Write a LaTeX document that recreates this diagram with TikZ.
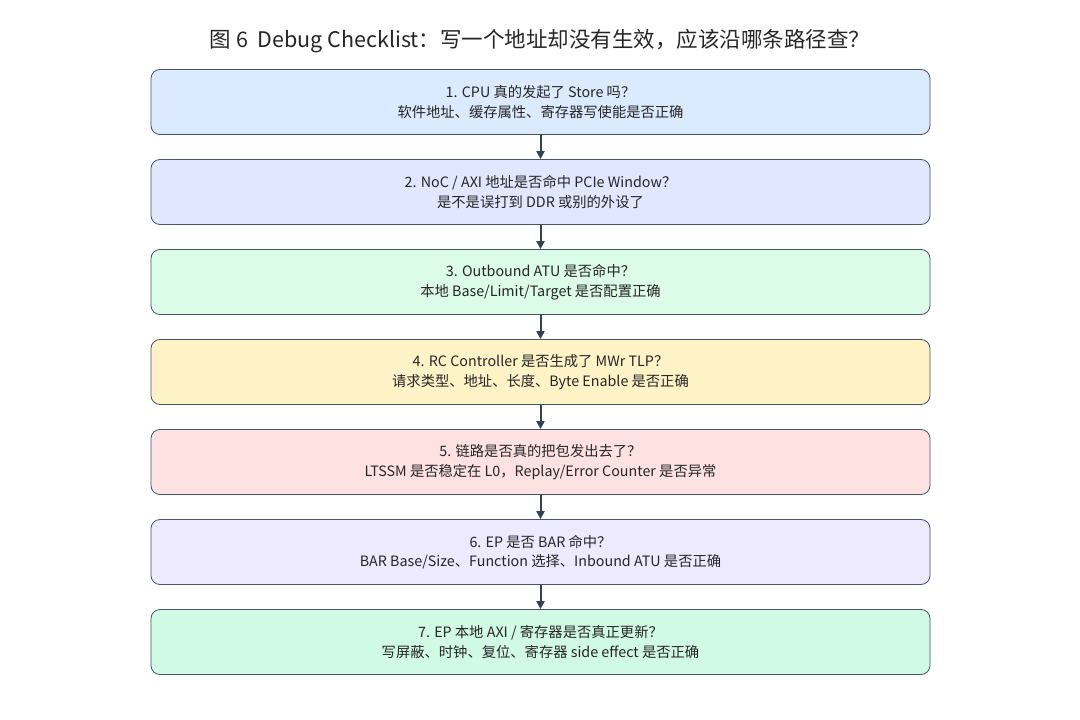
\documentclass[tikz,border=0pt]{standalone}
\usepackage{fontspec}
\setmainfont{Noto Sans CJK SC}
\usetikzlibrary{arrows.meta}
\definecolor{c1}{HTML}{DBEAFE}\definecolor{c2}{HTML}{E0E7FF}\definecolor{c3}{HTML}{DCFCE7}
\definecolor{c4}{HTML}{FEF3C7}\definecolor{c5}{HTML}{FEE2E2}\definecolor{c6}{HTML}{EDE9FE}
\definecolor{c7}{HTML}{D1FAE5}\definecolor{bd}{HTML}{475569}\definecolor{ar}{HTML}{334155}
\begin{document}
\begin{tikzpicture}[x=1pt,y=-1pt,
 box/.style={draw=bd,line width=0.8pt,rounded corners=9pt,minimum width=779pt,minimum height=65pt,align=center,font=\fontsize{14.3}{19.5}\selectfont,text=black!85},
 arr/.style={-{Triangle[length=8pt,width=8pt]},draw=ar,line width=2pt}]
\useasboundingbox (0,0) rectangle (1080,720);
\node[font=\fontsize{21.5}{24}\selectfont,text=black!85] (t) at (540,41) {图 6\ \ Debug Checklist：写一个地址却没有生效，应该沿哪条路径查？};
\node[box,fill=c1] (b1) at (540.5,102) {1. CPU 真的发起了 Store 吗？\\软件地址、缓存属性、寄存器写使能是否正确};
\node[box,fill=c2] (b2) at (540.5,192) {2. NoC / AXI 地址是否命中 PCIe Window？\\是不是误打到 DDR 或别的外设了};
\node[box,fill=c3] (b3) at (540.5,282) {3. Outbound ATU 是否命中？\\本地 Base/Limit/Target 是否配置正确};
\node[box,fill=c4] (b4) at (540.5,372) {4. RC Controller 是否生成了 MWr TLP？\\请求类型、地址、长度、Byte Enable 是否正确};
\node[box,fill=c5] (b5) at (540.5,462) {5. 链路是否真的把包发出去了？\\LTSSM 是否稳定在 L0，Replay/Error Counter 是否异常};
\node[box,fill=c6] (b6) at (540.5,552) {6. EP 是否 BAR 命中？\\BAR Base/Size、Function 选择、Inbound ATU 是否正确};
\node[box,fill=c7] (b7) at (540.5,642) {7. EP 本地 AXI / 寄存器是否真正更新？\\写屏蔽、时钟、复位、寄存器 side effect 是否正确};
\foreach \a/\b in {b1/b2,b2/b3,b3/b4,b4/b5,b5/b6,b6/b7} \draw[arr] (\a) -- (\b);
\end{tikzpicture}
\end{document}
